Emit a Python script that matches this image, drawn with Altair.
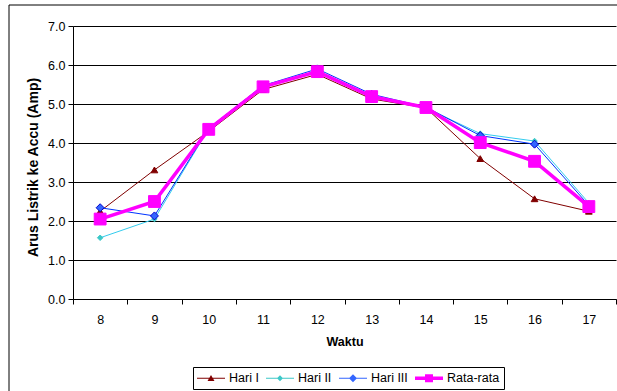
import altair as alt
import pandas as pd

# Hourly charging current (A) over three days and their mean
hours = ["8", "9", "10", "11", "12", "13", "14", "15", "16", "17"]
hari_1 = [2.25, 3.31, 4.30, 5.37, 5.76, 5.13, 4.90, 3.60, 2.57, 2.25]
hari_2 = [1.57, 2.05, 4.37, 5.48, 5.83, 5.19, 4.90, 4.24, 4.05, 2.46]
hari_3 = [2.34, 2.13, 4.38, 5.47, 5.90, 5.25, 4.92, 4.19, 3.97, 2.40]
rata_rata = [2.05, 2.50, 4.35, 5.44, 5.83, 5.19, 4.91, 4.01, 3.53, 2.37]

series_names = ["Hari I", "Hari II", "Hari III", "Rata-rata"]
series_values = [hari_1, hari_2, hari_3, rata_rata]
y_ticks = [0, 1, 2, 3, 4, 5, 6, 7]

# drawing style per series
line_colors = ["#800000", "#33CCEE", "#0033FF", "#FF00FF"]
line_widths = [1, 1, 1, 3.5]
marker_shapes = ["triangle-up", "diamond", "diamond", "square"]
marker_sizes = [45, 30, 64, 140]
marker_fills = ["#800000", "#3CC8C8", "#3366FF", "#FF00FF"]
marker_strokes = ["#800000", "#3CC8C8", "#0000CC", "#FF00FF"]

# legend glyphs: a short line with the marker in its middle (unit = 7 px)
legend_paths = [
    "M-1,-0.07H3V0.07H-1Z M0.5,0.4L1,-0.45L1.5,0.4Z",
    "M-1,-0.07H3V0.07H-1Z M0.57,0L1,-0.43L1.43,0L1,0.43Z",
    "M-1,-0.07H3V0.07H-1Z M0.43,0L1,-0.57L1.57,0L1,0.57Z",
    "M-1,-0.25H3V0.25H-1Z M0.43,-0.57H1.57V0.57H0.43Z",
]

FONT = "Liberation Sans"

rows = []
for name, vals in zip(series_names, series_values):
    for h, v in zip(hours, vals):
        rows.append({"hour": h, "value": v, "series": name})
df = pd.DataFrame(rows)

x_enc = alt.X(
    "hour:O",
    sort=hours,
    bandPosition=0.5,
    scale=alt.Scale(type="band", paddingInner=0, paddingOuter=0),
    axis=alt.Axis(
        title="Waktu", labelAngle=0, tickBand="extent", grid=False,
        domainColor="black", tickColor="black", tickSize=5,
        labelPadding=9, labelFontSize=12.5, labelColor="black", labelFont=FONT,
        titleFontSize=12.5, titleFontWeight="bold", titleColor="black",
        titleFont=FONT, titlePadding=10,
    ),
)
y_enc = alt.Y(
    "value:Q",
    scale=alt.Scale(domain=[0, 7], nice=False),
    axis=alt.Axis(
        values=y_ticks, format=".1f", title="Arus Listrik ke Accu (Amp)",
        grid=True, gridColor="black", gridWidth=1,
        domainColor="black", tickColor="black", tickSize=5,
        labelPadding=3, labelFontSize=12.5, labelColor="black", labelFont=FONT,
        titleFontSize=14, titleFontWeight="bold", titleColor="black",
        titleFont=FONT, titlePadding=7, titleY=141,
    ),
)

layers = []
for i, name in enumerate(series_names):
    base = alt.Chart(df).transform_filter(alt.datum.series == name)
    layers.append(
        base.mark_line(color=line_colors[i], strokeWidth=line_widths[i]).encode(x=x_enc, y=y_enc)
    )
    layers.append(
        base.mark_point(
            filled=True, shape=marker_shapes[i], size=marker_sizes[i],
            fill=marker_fills[i], stroke=marker_strokes[i], strokeWidth=1, opacity=1,
        ).encode(x=x_enc, y=y_enc)
    )

legend_common = dict(
    title=None, orient="none", legendX=120, legendY=341,
    direction="horizontal", columns=4,
)
legend_layer = (
    alt.Chart(df)
    .transform_filter("false")
    .mark_point(filled=True, opacity=1)
    .encode(
        x=x_enc,
        y=y_enc,
        fill=alt.Fill(
            "series:N",
            scale=alt.Scale(domain=series_names, range=marker_fills),
            legend=alt.Legend(**legend_common),
        ),
        shape=alt.Shape(
            "series:N",
            scale=alt.Scale(domain=series_names, range=legend_paths),
            legend=alt.Legend(**legend_common),
        ),
    )
)
layers.append(legend_layer)

# outer chart-area frame (left and top edges)
frame_df = pd.DataFrame({"k": [0]})
frame_left = alt.Chart(frame_df).mark_rule(color="black", strokeWidth=1).encode(
    x=alt.value(-64), y=alt.value(-21), y2=alt.value(400)
)
frame_top = alt.Chart(frame_df).mark_rule(color="black", strokeWidth=1).encode(
    x=alt.value(-64), x2=alt.value(560), y=alt.value(-21)
)

chart = (
    alt.layer(frame_left, frame_top, *layers)
    .properties(
        width=543,
        height=273,
        autosize=alt.AutoSizeParams(type="none"),
        padding={"left": 73, "top": 26, "right": 1, "bottom": 92},
        background="white",
    )
    .configure_view(stroke=None)
    .configure_legend(
        strokeColor="black", padding=4, rowPadding=0, columnPadding=7,
        symbolSize=196, symbolStrokeWidth=0, labelOffset=18,
        labelFont=FONT, labelFontSize=12.5, labelColor="black",
    )
)

chart.save("out.html", embed_options={"renderer": "svg", "actions": False})
